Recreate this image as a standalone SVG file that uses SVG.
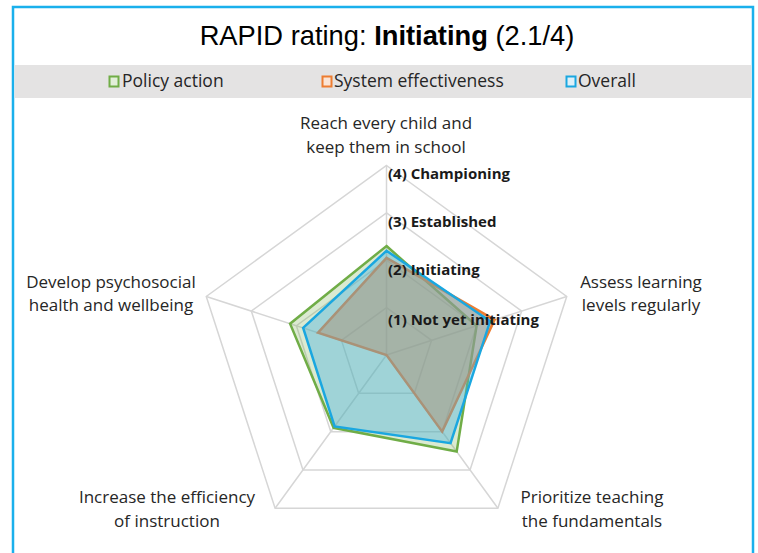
<svg xmlns="http://www.w3.org/2000/svg" width="758" height="553" viewBox="0 0 758 553">
<style>
.title{font-family:"Liberation Sans",Arial,sans-serif;font-size:27.3px;fill:#000}
.leg{font-family:"Open Sans","Noto Sans",sans-serif;font-size:17.5px;fill:#262626}
.ax{font-family:"Open Sans","Noto Sans",sans-serif;font-size:17px;fill:#262626}
.lvl{font-family:"Open Sans","Noto Sans",sans-serif;font-size:15px;font-weight:bold;fill:#1a1a1a}
.grid{fill:none;stroke:#d6d6d6;stroke-width:1.5}
.ser{stroke-width:2.5;stroke-linejoin:miter}
</style>
<rect x="0" y="0" width="758" height="553" fill="#ffffff"/>
<rect x="13" y="7" width="740" height="570" fill="#ffffff" stroke="#1ab0ec" stroke-width="2.5"/>
<rect x="14.5" y="65" width="737" height="33" fill="#e4e3e3"/>
<text class="title" x="387" y="45" text-anchor="middle">RAPID rating: <tspan font-weight="bold">Initiating</tspan> (2.1/4)</text>
<g id="legend">
<rect x="109.5" y="76.5" width="9" height="10" fill="#e2efd9" stroke="#70ad47" stroke-width="2"/>
<text class="leg" x="122" y="87">Policy action</text>
<rect x="322.5" y="76.5" width="9" height="10" fill="#fbe4d5" stroke="#ed7d31" stroke-width="2"/>
<text class="leg" x="334" y="87">System effectiveness</text>
<rect x="566.5" y="76.5" width="9" height="10" fill="#def0f8" stroke="#1aa7e0" stroke-width="2"/>
<text class="leg" x="578" y="87">Overall</text>
</g>
<g id="grid">
<polygon class="grid" points="386.5,165.5 566.73,296.44 497.89,508.31 275.11,508.31 206.27,296.44"/>
<polygon class="grid" points="386.5,212.88 521.67,311.08 470.04,469.98 302.96,469.98 251.33,311.08"/>
<polygon class="grid" points="386.5,260.25 476.61,325.72 442.19,431.65 330.81,431.65 296.39,325.72"/>
<polygon class="grid" points="386.5,307.63 431.56,340.36 414.35,393.33 358.65,393.33 341.44,340.36"/>
<path class="grid" d="M386.5,355 L386.5,165.5 M386.5,355 L566.73,296.44 M386.5,355 L497.89,508.31 M386.5,355 L275.11,508.31 M386.5,355 L206.27,296.44"/>
</g>
<g id="series">
<g id="policy-action">
<polygon class="ser" fill="#70ad47" fill-opacity="0.25" stroke="#70ad47" points="386.5,246.04 476.61,325.72 456.68,451.59 333.6,427.81 290.08,323.67"/>
</g>
<g id="system-effectiveness">
<polygon class="ser" fill="#ed7d31" fill-opacity="0.5" stroke="#ed7d31" stroke-width="2.2" points="386.5,257.88 494.63,319.86 442.19,431.65 386.5,355 318.01,332.75"/>
</g>
<g id="overall">
<polygon class="ser" fill="#47b1e2" fill-opacity="0.4" stroke="#1aa7e0" points="386.5,250.77 490.13,321.33 450.55,443.15 334.6,426.4 303.15,327.92"/>
</g>
</g>
<g id="level-labels">
<text class="lvl" x="388" y="179">(4) Championing</text>
<text class="lvl" x="388" y="227">(3) Established</text>
<text class="lvl" x="388" y="275">(2) Initiating</text>
<text class="lvl" x="388" y="325">(1) Not yet initiating</text>
</g>
<g id="axis-reach">
<text class="ax" x="386" y="129" text-anchor="middle">Reach every child and</text>
<text class="ax" x="386" y="153" text-anchor="middle">keep them in school</text>
</g>
<g id="axis-assess">
<text class="ax" x="641" y="288" text-anchor="middle">Assess learning</text>
<text class="ax" x="641" y="311" text-anchor="middle">levels regularly</text>
</g>
<g id="axis-prioritize">
<text class="ax" x="592" y="503" text-anchor="middle">Prioritize teaching</text>
<text class="ax" x="592" y="527" text-anchor="middle">the fundamentals</text>
</g>
<g id="axis-increase">
<text class="ax" x="167" y="503" text-anchor="middle">Increase the efficiency</text>
<text class="ax" x="167" y="527" text-anchor="middle">of instruction</text>
</g>
<g id="axis-develop">
<text class="ax" x="111" y="288" text-anchor="middle">Develop psychosocial</text>
<text class="ax" x="111" y="311" text-anchor="middle">health and wellbeing</text>
</g>
</svg>
